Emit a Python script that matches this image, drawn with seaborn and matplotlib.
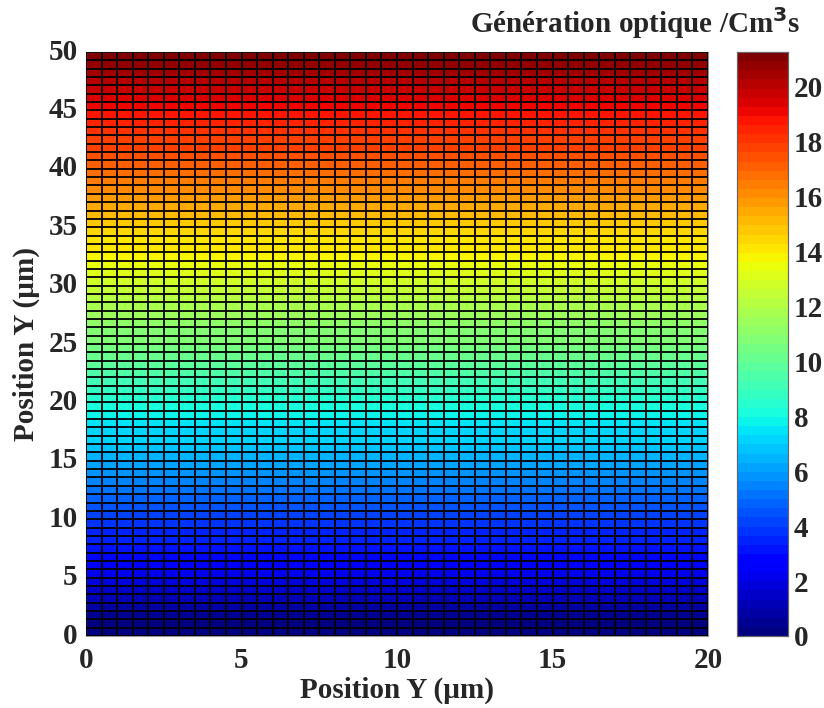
import numpy as np
import pandas as pd
import matplotlib
matplotlib.use("Agg")
import matplotlib.pyplot as plt
import seaborn as sns

# Optical generation value for each row of cells (bottom -> top), Y from 0 to 50 µm
row_values = [0.00, 0.30, 0.61, 0.91, 1.22, 1.52, 1.82, 2.13, 2.43, 2.73,
              3.04, 3.34, 3.65, 3.95, 4.25, 4.56, 4.86, 5.17, 5.47, 5.77,
              6.08, 6.38, 6.69, 6.99, 7.29, 7.60, 7.90, 8.20, 8.51, 8.81,
              9.12, 9.42, 9.72, 10.03, 10.33, 10.64, 10.94, 11.24, 11.55, 11.85,
              12.16, 12.46, 12.76, 13.07, 13.37, 13.67, 13.98, 14.28, 14.59, 14.89,
              15.19, 15.50, 15.80, 16.11, 16.41, 16.71, 17.02, 17.32, 17.63, 17.93,
              18.23, 18.54, 18.84, 19.14, 19.45, 19.75, 20.06, 20.36, 20.66, 20.97]
n_cols = 40            # columns of cells across X (0..20 µm)
x_max = 20
y_max = 50
c_min, c_max = 0, 21.27
x_ticklabels = ["0", "5", "10", "15", "20"]
y_ticklabels = ["0", "5", "10", "15", "20", "25", "30", "35", "40", "45", "50"]
cbar_ticks = [0, 2, 4, 6, 8, 10, 12, 14, 16, 18, 20]

n_rows = len(row_values)
data = pd.DataFrame(np.tile(np.array(row_values)[:, None], (1, n_cols)))

sns.set_style("white")
plt.rcParams['font.family'] = ['Liberation Serif', 'DejaVu Serif']
plt.rcParams['font.weight'] = 'bold'
FS = 21

fig = plt.figure(figsize=(8.24, 7.08), dpi=100)
W, H = 824, 708
ax = fig.add_axes([86 / W, 1 - 636 / H, (708 - 86) / W, (636 - 52) / H])
cax = fig.add_axes([737 / W, 1 - 636 / H, (788 - 737) / W, (636 - 52) / H])

cmap = plt.get_cmap('jet', 64)
sns.heatmap(data, ax=ax, cbar_ax=cax, cmap=cmap, vmin=c_min, vmax=c_max,
            linewidths=0, cbar=True)
ax.invert_yaxis()
# cell borders (mesh edges)
ax.hlines(np.arange(n_rows + 1), 0, n_cols, colors='black', linewidth=1.3, snap=True, zorder=3)
ax.vlines(np.arange(n_cols + 1), 0, n_rows, colors='black', linewidth=1.3, snap=True, zorder=3)

xt = [n_cols * float(v) / x_max for v in x_ticklabels]
yt = [n_rows * float(v) / y_max for v in y_ticklabels]
ax.set_xticks(xt)
ax.set_xticklabels(x_ticklabels, fontsize=FS, fontweight='bold', rotation=0)
ax.set_yticks(yt)
ax.set_yticklabels(y_ticklabels, fontsize=FS, fontweight='bold', rotation=0)
ax.tick_params(axis='x', length=0, pad=8)
ax.tick_params(axis='y', length=0, pad=6)
ax.set_xlabel("Position Y (µm)", fontsize=FS, fontweight='bold', labelpad=2)
ax.set_ylabel("Position Y (µm)", fontsize=FS, fontweight='bold', labelpad=6)
for s in ax.spines.values():
    s.set_visible(True)
    s.set_color('#999999')
    s.set_linewidth(0.8)

cax.set_yticks(cbar_ticks)
cax.set_yticklabels([str(t) for t in cbar_ticks], fontsize=FS, fontweight='bold')
cax.tick_params(axis='y', direction='in', length=4, width=0.8, right=True, left=True, pad=4)
for s in cax.spines.values():
    s.set_visible(True)
    s.set_color('#666666')
    s.set_linewidth(0.8)

fig.text(800 / W, 1 - 33 / H, "Génération optique /Cm$^{\\mathbf{3}}$s", ha='right', va='baseline',
         fontsize=FS, fontweight='bold')

fig.savefig("out.png", dpi=100)
